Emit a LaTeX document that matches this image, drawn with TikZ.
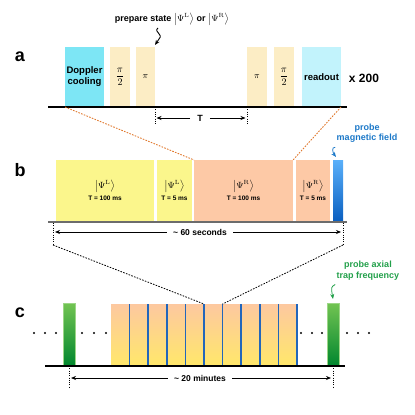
\documentclass[tikz,border=0pt]{standalone}
\usepackage[no-math]{fontspec}
\setmainfont{Liberation Sans}
\usetikzlibrary{arrows.meta}
\definecolor{dopc}{HTML}{7DE6F5}
\definecolor{pulsey}{HTML}{FCEDC5}
\definecolor{roc}{HTML}{C2F3FC}
\definecolor{ybox}{HTML}{FBF68C}
\definecolor{sbox}{HTML}{FDC9A6}
\definecolor{bluetop}{HTML}{5AB0FA}
\definecolor{bluebot}{HTML}{0A5FC0}
\definecolor{greentop}{HTML}{72C452}
\definecolor{greenbot}{HTML}{00862E}
\definecolor{otop}{HTML}{FDC8A0}
\definecolor{obot}{HTML}{FFE86A}
\definecolor{bluel}{HTML}{2266BB}
\definecolor{orangel}{HTML}{E07A30}
\definecolor{bluet}{HTML}{1B78C8}
\definecolor{greent}{HTML}{22A04A}
\newcommand{\kL}{\ensuremath{\bigl|\Psi^{\mathrm{L}}\bigr\rangle}}
\newcommand{\kR}{\ensuremath{\bigl|\Psi^{\mathrm{R}}\bigr\rangle}}
\newcommand{\halfpi}{\ensuremath{\displaystyle\frac{\pi}{2}}}
\newcommand{\tmsf}{\bfseries\fontsize{6.5}{7}\selectfont}
\begin{document}
\begin{tikzpicture}[x=1pt,y=-1pt,
  lab/.style={font=\fontsize{18}{18}\selectfont\bfseries},
  pulse/.style={inner sep=0pt,outer sep=0pt,draw=none,minimum height=60,align=center},
  bbox/.style={inner sep=0pt,outer sep=0pt,draw=none,minimum height=61,align=center,font=\fontsize{9}{10}\selectfont},
  bt/.style={font=\bfseries\fontsize{9.5}{11}\selectfont},
  arr/.style={-{Stealth[length=5pt,width=4pt]},line width=0.8pt},
  vdot/.style={dash pattern=on 1pt off 1.3pt,line width=0.9pt},
  zoomo/.style={dash pattern=on 1.6pt off 1.3pt,line width=0.9pt,color=orangel},
  zoomk/.style={dash pattern=on 1.6pt off 1.3pt,line width=0.8pt,color=black},
  baseln/.style={line width=1.3pt,color=black},
  bluestripe/.style={line width=1.5pt,color=bluel}]
\path[use as bounding box] (0,0) rectangle (415,415);

% ---------- panel a ----------
\node[lab] (la) at (20,57) {a};
\node[pulse,fill=dopc,minimum width=39,bt] (dop) at (84.5,77) {Doppler\\cooling};
\node[pulse,fill=pulsey,minimum width=20] (p2a) at (120,77) {\halfpi};
\node[pulse,fill=pulsey,minimum width=19,font=\fontsize{9}{9}\selectfont] (pa) at (145.5,77) {\(\pi\)};
\node[pulse,fill=pulsey,minimum width=20,font=\fontsize{9}{9}\selectfont] (pb) at (257,77) {\(\pi\)};
\node[pulse,fill=pulsey,minimum width=20] (p2b) at (284,77) {\halfpi};
\node[pulse,fill=roc,minimum width=39,bt] (ro) at (321.5,77) {readout};
\node[font=\bfseries\fontsize{12}{12}\selectfont] (x200) at (364,78) {x 200};
\node[font=\bfseries\fontsize{9}{10}\selectfont] (prep) at (172,19) {prepare state \kL\ or \kR};
\coordinate (sq0) at (158,28);
\draw[arr,line width=0.9pt] (sq0) .. controls (153,32) and (164,34) .. (159,39) .. controls (157,42) .. ([yshift=2pt]pa.north east);
\coordinate (a0) at (48,107);
\coordinate (a1) at (347,107);
\draw[baseln] (a0) -- (a1);
\draw[vdot] (pa.south east) -- ++(0,18);
\draw[vdot] (pb.south west) -- ++(0,18);
\node[font=\bfseries\fontsize{9}{9}\selectfont,inner xsep=7pt] (T) at (200,118) {T};
\draw[arr] (T.west) -- ([xshift=1.5pt]T.west -| pa.south east);
\draw[arr] (T.east) -- ([xshift=-1.5pt]T.east -| pb.south west);

% ---------- panel b ----------
\node[lab] (lb) at (20,170) {b};
\node[bbox,fill=ybox,minimum width=98] (yb1) at (105,190.5) {\kL\\[2pt]{\tmsf T = 100 ms}};
\node[bbox,fill=ybox,minimum width=35] (yb2) at (174.5,190.5) {\kL\\[2pt]{\tmsf T = 5 ms}};
\node[bbox,fill=sbox,minimum width=99] (sb1) at (243.5,190.5) {\kR\\[2pt]{\tmsf T = 100 ms}};
\node[bbox,fill=sbox,minimum width=34] (sb2) at (313,190.5) {\kR\\[2pt]{\tmsf T = 5 ms}};
\node[bbox,top color=bluetop,bottom color=bluebot,minimum width=10] (bb) at (338,190.5) {};
\draw[line width=1.8pt,color=gray!85!black] (48,222) -- (347,222);
\draw[zoomo] (dop.south west) -- (sb1.north west);
\draw[zoomo] (ro.south east) -- (sb1.north east);
\node[font=\bfseries\fontsize{9}{10}\selectfont,text=bluet,align=center] (pmf) at (367,133.5) {probe\\magnetic field};
\draw[arr,color=bluet] ([shift={(2pt,-1pt)}]pmf.south west) .. controls (331,147) and (333,153) .. ([shift={(-2pt,3pt)}]bb.north);
\coordinate (bL) at (53,223);
\coordinate (bR) at (343,223);
\coordinate (b0) at (53,245);
\coordinate (b1) at (343,245);
\draw[vdot] (bL) -- (b0);
\draw[vdot] (bR) -- (b1);
\node[font=\bfseries\fontsize{8.5}{9}\selectfont,inner xsep=6pt] (sec) at (200,232) {\textasciitilde\ 60 seconds};
\draw[arr] (sec.west) -- ([xshift=2pt]sec.west -| bL);
\draw[arr] (sec.east) -- ([xshift=-2pt]sec.east -| bR);

% ---------- panel c ----------
\node[lab] (lc) at (20,313) {c};
\node[inner sep=0pt,outer sep=0pt,minimum width=186,minimum height=62,top color=otop,bottom color=obot] (ob) at (204,335) {};
\foreach \i in {1,...,10} {
  \pgfmathsetmacro\xx{111+18.6*\i}
  \draw[bluestripe] (\xx,304) coordinate (ct\i) -- (\xx,366);
}
\node[inner sep=0pt,outer sep=0pt,minimum width=12,minimum height=63,top color=greentop,bottom color=greenbot,draw=greentop!70!white,line width=0.5pt] (g1) at (69,334.5) {};
\node[inner sep=0pt,outer sep=0pt,minimum width=12,minimum height=63,top color=greentop,bottom color=greenbot,draw=greentop!70!white,line width=0.5pt] (g2) at (333,334.5) {};
\foreach \x in {34,45,56,82,94,106,301,312,322,347,358,369}
  \fill (\x,333) circle (1.15);
\draw[baseln] (45,366) -- (345,366);
\draw[zoomk] (b0) -- (ct5);
\draw[zoomk] (b1) -- (ct6);
\draw[vdot] (g1.south) -- ++(0,22);
\draw[vdot] (g2.south) -- ++(0,22);
\node[font=\bfseries\fontsize{8.5}{9}\selectfont,inner xsep=6pt] (mins) at (200,378) {\textasciitilde\ 20 minutes};
\draw[arr] (mins.west) -- ([xshift=2pt]mins.west -| g1.south);
\draw[arr] (mins.east) -- ([xshift=-2pt]mins.east -| g2.south);
\node[font=\bfseries\fontsize{9}{10.5}\selectfont,text=greent,align=center] (pax) at (368,270.5) {probe axial\\trap frequency};
\draw[arr,color=greent] ([shift={(2pt,-1pt)}]pax.south west) .. controls (331,287) .. ([yshift=4pt]g2.north);
\end{tikzpicture}
\end{document}
